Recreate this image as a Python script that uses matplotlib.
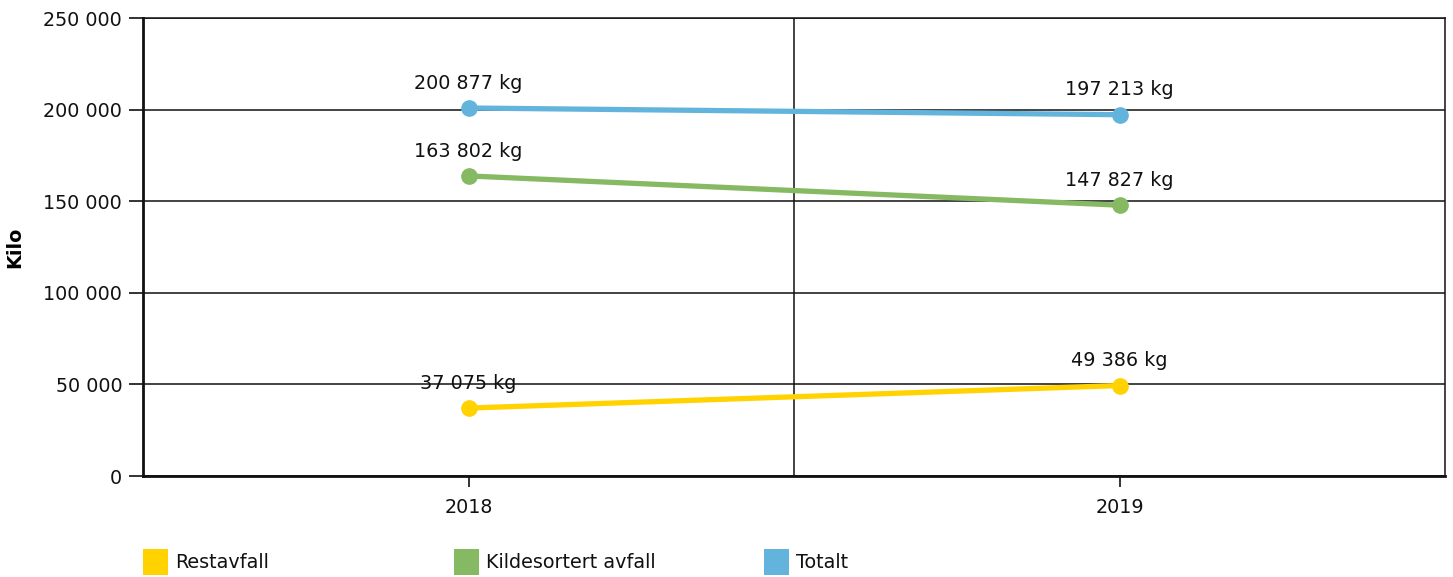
import matplotlib
matplotlib.use("Agg")
import matplotlib.pyplot as plt
from matplotlib.patches import Rectangle
from matplotlib.ticker import FixedLocator, FuncFormatter

categories = ["2018", "2019"]
series_names = ["Restavfall", "Kildesortert avfall", "Totalt"]
restavfall = [37075, 49386]
kildesortert = [163802, 147827]
totalt = [200877, 197213]
colors = ["#FFD200", "#85B962", "#63B4DC"]
yticks = [0, 50000, 100000, 150000, 200000, 250000]

plt.rcParams['font.family'] = ['DejaVu Sans']
fig = plt.figure(figsize=(14.53, 5.77), dpi=100)
ax = fig.add_axes([143/1453, 1-476/577, (1445-143)/1453, (476-18)/577])

x = list(range(len(categories)))
for vals, c in zip([restavfall, kildesortert, totalt], colors):
    ax.plot(x, vals, color=c, lw=3.8, marker='o', markersize=11, solid_capstyle='round', zorder=3)
    for xi, v in zip(x, vals):
        ax.annotate(f"{v:,} kg".replace(",", " "), (xi, v), xytext=(0, 11), textcoords='offset points',
                    ha='center', va='bottom', fontsize=13.8, color='#111111', zorder=4)

ax.set_xlim(-0.5, len(categories) - 0.5)
ax.set_ylim(0, 250000)
ax.set_yticks(yticks)
ax.yaxis.set_major_formatter(FuncFormatter(lambda v, p: f"{int(v):,}".replace(",", " ")))
ax.set_xticks(x)
ax.set_xticklabels(categories)
ax.xaxis.set_minor_locator(FixedLocator([0.5]))
ax.grid(axis='y', which='major', color='#111111', lw=1.1, zorder=1)
ax.grid(axis='x', which='minor', color='#111111', lw=1.1, zorder=1)
ax.tick_params(axis='x', which='minor', length=0)
ax.tick_params(axis='y', length=10, width=1.2, pad=5, labelsize=13.8, colors='#111111')
ax.tick_params(axis='x', which='major', length=8, width=1.2, pad=8, labelsize=13.8, colors='#111111')
ax.spines['left'].set_linewidth(2)
ax.spines['bottom'].set_linewidth(2)
ax.spines['right'].set_linewidth(1.1)
ax.spines['top'].set_linewidth(1.1)
for s in ax.spines.values():
    s.set_color('#111111')
ax.set_ylabel("Kilo", fontsize=13.8, fontweight='bold', labelpad=14)

# legend
leg_x = [143, 454, 764]
for lx, name, c in zip(leg_x, series_names, colors):
    fig.patches.append(Rectangle((lx/1453, 1-575/577), 25/1453, 26/577, transform=fig.transFigure,
                                 facecolor=c, edgecolor='none'))
    fig.text((lx+32)/1453, 1-562/577, name, fontsize=13.8, va='center', ha='left', color='#111111')

fig.savefig("out.png", dpi=100)
